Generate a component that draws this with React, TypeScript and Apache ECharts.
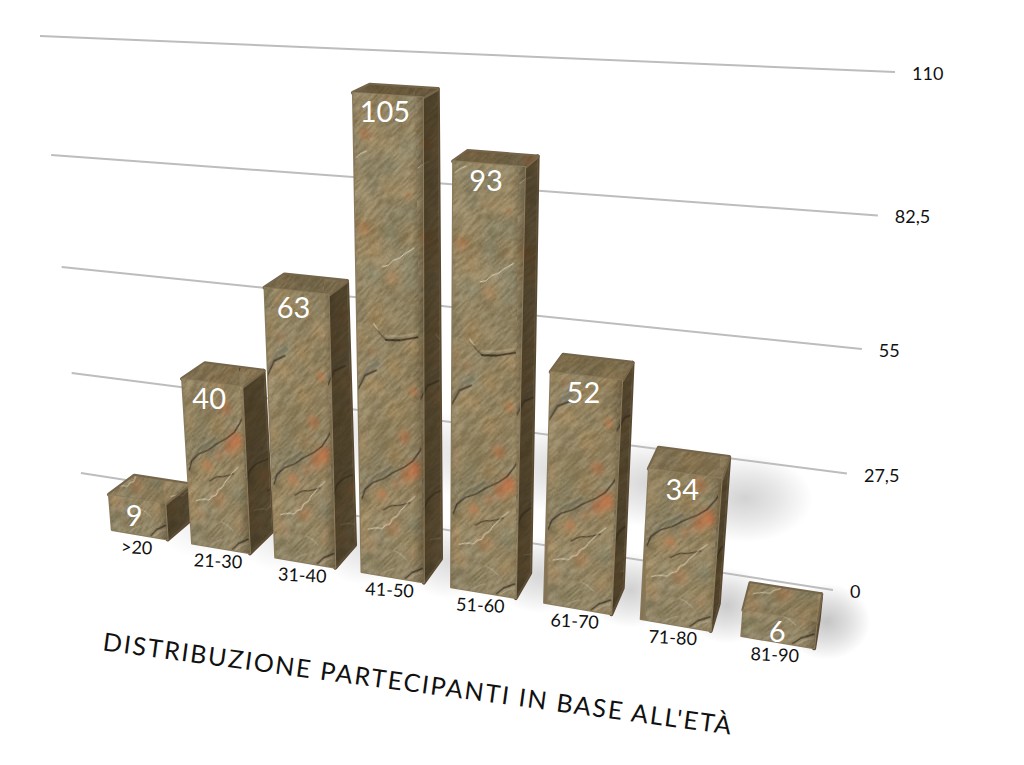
import React, { useEffect, useRef } from "react";
import * as echarts from "echarts";

const categories = [">20", "21-30", "31-40", "41-50", "51-60", "61-70", "71-80", "81-90"];
const values = [9, 40, 63, 105, 93, 52, 34, 6];
const ticks = [0, 27.5, 55, 82.5, 110];
const tickLabels = ["0", "27,5", "55", "82,5", "110"];
const chartTitle = "DISTRIBUZIONE PARTECIPANTI IN BASE ALL'ETÀ";
const axisMax = 110;

type P = [number, number];
type Quad = [P, P, P, P]; // (0,0) (1,0) (1,1) (0,1)

function homography(q: Quad) {
  const [[x0, y0], [x1, y1], [x2, y2], [x3, y3]] = q;
  const dx1 = x1 - x2, dx2 = x3 - x2, dx3 = x0 - x1 + x2 - x3;
  const dy1 = y1 - y2, dy2 = y3 - y2, dy3 = y0 - y1 + y2 - y3;
  const den = dx1 * dy2 - dx2 * dy1;
  const g = (dx3 * dy2 - dx2 * dy3) / den;
  const h = (dx1 * dy3 - dx3 * dy1) / den;
  const a = x1 - x0 + g * x1, b = x3 - x0 + h * x3, c = x0;
  const d = y1 - y0 + g * y1, e = y3 - y0 + h * y3, f = y0;
  return (u: number, v: number): P => {
    const w = g * u + h * v + 1;
    return [(a * u + b * v + c) / w, (d * u + e * v + f) / w];
  };
}

const wall = homography([[81, 473], [833, 590], [895, 72], [40, 36]]);
const front = homography([[100, 528], [830, 651], [887, 100], [60, 49]]);
const back = homography([[126, 508], [834, 622], [889, 90], [83, 43]]);
const BAR = 0.35;

function barGeom(uc: number, band: number, vv: number) {
  const u0 = uc - band * BAR, u1 = uc + band * BAR;
  return {
    vv, uc, u0, u1,
    fbl: front(u0, 0), fbr: front(u1, 0), ftl: front(u0, vv), ftr: front(u1, vv),
    bbr: back(u1, 0), btl: back(u0, vv), btr: back(u1, vv),
  };
}

const TW = 70, TH = 560, TB = 14;
function hash(x: number, y: number) {
  let n = (x * 374761393 + y * 668265263) | 0;
  n = Math.imul(n ^ (n >>> 13), 1274126177);
  return ((n ^ (n >>> 16)) >>> 0) / 4294967295;
}
function vnoise(x: number, y: number) {
  const xi = Math.floor(x), yi = Math.floor(y);
  const fx = x - xi, fy = y - yi;
  const sx = fx * fx * (3 - 2 * fx), sy = fy * fy * (3 - 2 * fy);
  const a = hash(xi, yi), b = hash(xi + 1, yi), c = hash(xi, yi + 1), d = hash(xi + 1, yi + 1);
  return a + (b - a) * sx + (c - a) * sy + (a - b - c + d) * sx * sy;
}
function makeTile(withLedge: boolean): HTMLCanvasElement {
  const cv = document.createElement("canvas");
  cv.width = TW; cv.height = TH;
  const ctx = cv.getContext("2d")!;
  const img = ctx.createImageData(TW, TH);
  for (let y = 0; y < TH; y++) {
    for (let x = 0; x < TW; x++) {
      // grain running up and to the right
      const along = (x - y) * 0.7, across = (x + y) * 0.7;
      const grain = vnoise(along * 0.11, across * 0.6) - 0.5;
      const fine = vnoise(x * 0.8, y * 0.8) - 0.5;
      const blotch = vnoise(x * 0.04 + 7, y * 0.03 + 3) - 0.5;
      const warm = vnoise(x * 0.05 + 40, y * 0.045 + 90) - 0.5;
      const l = 34 * grain + 16 * fine + 12 * blotch;
      const i = (y * TW + x) * 4;
      img.data[i] = 148 + l + 18 * warm;
      img.data[i + 1] = 133 + l + 3 * warm;
      img.data[i + 2] = 99 + l - 8 * warm;
      img.data[i + 3] = 255;
    }
  }
  ctx.putImageData(img, 0, 0);
  const Y = (h: number) => TH - TB - h;
  const orange = (x: number, h: number, r: number, a: number) => {
    const yy = Y(h);
    const g = ctx.createRadialGradient(x, yy, 0, x, yy, r);
    g.addColorStop(0, `rgba(214,104,56,${a})`);
    g.addColorStop(0.5, `rgba(214,104,56,${a * 0.5})`);
    g.addColorStop(1, "rgba(214,104,56,0)");
    ctx.fillStyle = g;
    ctx.fillRect(x - r, yy - r, 2 * r, 2 * r);
  };
  [
    [62, 112, 13, 0.7], [52, 103, 11, 0.45], [40, 94, 9, 0.28], [51, 143, 11, 0.4], [25, 82, 8, 0.38],
    [62, 190, 7, 0.4], [17, 223, 9, 0.18], [36, 49, 12, 0.22], [12, 30, 10, 0.12], [58, 25, 8, 0.12],
    [10, 345, 9, 0.32], [40, 300, 9, 0.16], [60, 385, 7, 0.18], [12, 440, 9, 0.35],
  ].forEach((o) => orange(o[0], o[1], o[2], o[3]));
  const stroke = (pts: number[][], color: string, lw: number) => {
    ctx.beginPath();
    pts.forEach((p, i) => (i ? ctx.lineTo(p[0], Y(p[1])) : ctx.moveTo(p[0], Y(p[1]))));
    ctx.strokeStyle = color; ctx.lineWidth = lw; ctx.lineJoin = "round"; ctx.lineCap = "round"; ctx.stroke();
  };
  const dark = "rgba(52,42,34,0.8)";
  const white = "rgba(235,232,214,0.8)";
  const ghost = "rgba(235,232,214,0.42)";
  stroke([[4, 80], [15, 96], [36, 110]], "rgba(95,95,88,0.45)", 3);
  stroke([[2, 74], [6, 84], [15, 92], [26, 97], [36, 104], [51, 113], [60, 120], [68, 131], [70, 135]], dark, 1.3);
  stroke([[26, 66], [32, 70], [36, 72], [43, 73], [49, 75], [56, 78]], dark, 1.1);
  stroke([[49, 1], [57, 8], [69, 14]], dark, 1.4);
  stroke([[53, 1], [60, 6], [69, 10]], "rgba(225,200,170,0.5)", 0.9);
  stroke([[8, 44], [14, 46], [18, 47], [24, 47], [28, 51], [33, 53], [36, 59], [41, 62], [45, 68], [49, 72], [54, 78], [62, 85]], white, 0.9);
  stroke([[21, 0], [26, 4], [30, 6], [36, 9]], ghost, 0.9);
  stroke([[38, 27], [45, 24], [51, 20]], ghost, 0.9);
  stroke([[2, 190], [12, 206], [24, 212]], "rgba(110,110,100,0.55)", 3.5);
  stroke([[0, 183], [8, 198], [21, 205]], "rgba(60,55,46,0.85)", 1.5);
  stroke([[2, 415], [8, 420], [14, 423]], white, 1);
  stroke([[30, 310], [36, 312], [42, 318], [50, 322], [54, 326], [66, 334]], white, 1);
  if (withLedge) {
    stroke([[32, 237], [48, 239], [68, 245]], "rgba(45,36,28,0.85)", 1.8);
    stroke([[21, 247], [26, 242], [32, 237]], "rgba(60,50,36,0.55)", 1.2);
    stroke([[19, 251], [23, 246]], "rgba(235,225,195,0.6)", 1.4);
    stroke([[32, 241], [48, 243], [68, 249]], "rgba(215,205,175,0.3)", 2);
  }
  return cv;
}

// The stone is laid out once, at the place each bar takes on the page.
function makePageTexture(): string {
  const tile = makeTile(true);
  const plainTile = makeTile(false);
  const cv = document.createElement("canvas");
  cv.width = 1024; cv.height = 765;
  const ctx = cv.getContext("2d")!;
  ctx.fillStyle = "#8b7b5c";
  ctx.fillRect(0, 0, 1024, 765);
  const band = 1 / values.length;
  values.forEach((val, i) => {
    const g = barGeom((i + 0.5) * band, band, val / axisMax);
    const up = front(g.u0, 1);
    const dx = up[0] - g.fbl[0], dy = up[1] - g.fbl[1];
    const L = Math.hypot(dx, dy);
    const a = (g.fbr[0] - g.fbl[0]) / TW, b = (g.fbr[1] - g.fbl[1]) / TW;
    const c = -dx / L, d = -dy / L;
    const e = g.fbl[0] - c * (TH - TB), f = g.fbl[1] - d * (TH - TB);
    ctx.save();
    ctx.beginPath();
    const pts: P[] = [g.fbl, g.fbr, g.bbr, g.btr, g.btl, g.ftl];
    pts.forEach((p, k) => (k ? ctx.lineTo(p[0] + (k === 1 || k === 2 || k === 3 ? 3 : -3), p[1]) : ctx.moveTo(p[0] - 3, p[1] + 4)));
    ctx.lineTo(g.ftl[0] - 3, g.fbl[1] + 4);
    ctx.closePath();
    ctx.clip();
    ctx.setTransform(a, b, c, d, e, f);
    const t = val > 80 ? tile : plainTile;
    [0, TW].forEach((ox) => {
      [0, TH].forEach((oy) => ctx.drawImage(t, ox, oy));
      ctx.drawImage(t, ox, -TH);
    });
    ctx.restore();
  });
  return cv.toDataURL("image/jpeg", 0.88);
}

export default function App() {
  const ref = useRef<HTMLDivElement>(null);
  useEffect(() => {
    document.body.style.margin = "0";
    document.body.style.background = "#fff";
    const chart = echarts.init(ref.current!, undefined, { renderer: "svg", width: 1024, height: 765 });
    const tex = makePageTexture();
    const FF = "Lato, 'Noto Sans', sans-serif";

    const geom = (params: any, api: any) => {
      const cs = params.coordSys;
      const p = api.coord([api.value(0), api.value(1)]);
      const band = api.size([1, 0])[0] / cs.width;
      const uc = (p[0] - cs.x) / cs.width;
      const vv = (cs.y + cs.height - p[1]) / cs.height;
      return barGeom(uc, band, vv);
    };
    const poly = (points: P[], style: any) => ({ type: "polygon", shape: { points }, style, silent: true });
    const blob = (cx: number, cy: number, rx: number, ry: number, a: number) => ({
      type: "ellipse",
      shape: { cx, cy, rx, ry },
      style: {
        fill: {
          type: "radial", x: 0.5, y: 0.5, r: 0.5,
          colorStops: [
            { offset: 0, color: `rgba(0,0,0,${a})` },
            { offset: 0.5, color: `rgba(0,0,0,${a * 0.55})` },
            { offset: 1, color: "rgba(0,0,0,0)" },
          ],
        },
      },
      silent: true,
    });
    const pattern = () => ({ image: tex, repeat: "repeat", imageWidth: 1024, imageHeight: 765 });

    chart.setOption({
      animation: false,
      backgroundColor: "#ffffff",
      grid: { left: 0, right: 0, top: 0, bottom: 0 },
      xAxis: { type: "category", data: categories, show: false },
      yAxis: { type: "value", min: 0, max: axisMax, interval: 27.5, show: false },
      graphic: [
        {
          type: "text", x: 105, y: 628, rotation: -0.133,
          style: { text: chartTitle, font: `400 25px ${FF}`, fill: "#111" },
        },
      ],
      series: [
        {
          type: "custom", coordinateSystem: "cartesian2d", silent: true, z: 1,
          data: values.map((v, i) => [i, v]),
          renderItem: (params: any, api: any) => {
            const g = geom(params, api);
            const h = g.bbr[1] - g.btr[1];
            const a = 0.06 + 0.18 * g.uc;
            const children: any[] = [blob(g.bbr[0] + 8, g.bbr[1] + 2, 44, 38, a)];
            if (h > 100) children.push(blob(g.bbr[0] + 26, g.bbr[1] - 105, 68, 44, a * 0.85));
            return { type: "group", children };
          },
        },
        {
          type: "custom", coordinateSystem: "cartesian2d", silent: true, z: 2,
          data: ticks.map((t, i) => [i, t]),
          renderItem: (params: any, api: any) => {
            const cs = params.coordSys;
            const t = api.value(1);
            const v = (cs.y + cs.height - api.coord([0, t])[1]) / cs.height;
            const a = wall(0, v), b = wall(1, v);
            return {
              type: "group",
              children: [
                { type: "line", shape: { x1: a[0], y1: a[1], x2: b[0], y2: b[1] }, style: { stroke: "#bdbdbd", lineWidth: 2 } },
                {
                  type: "text", x: b[0] + 17, y: b[1] + 1,
                  style: { text: tickLabels[params.dataIndex], font: `400 18px ${FF}`, fill: "#111", verticalAlign: "middle", align: "left" },
                },
              ],
            };
          },
        },
        {
          type: "custom", coordinateSystem: "cartesian2d", silent: true, z: 3,
          data: values.map((v, i) => [i, v]),
          renderItem: (params: any, api: any) => {
            const g = geom(params, api);
            const top: P[] = [g.ftl, g.ftr, g.btr, g.btl];
            const side: P[] = [g.ftr, g.btr, g.bbr, g.fbr];
            const face: P[] = [g.ftl, g.ftr, g.fbr, g.fbl];
            const topAlpha = 0.05 + 0.45 * g.vv;
            const cx = (g.ftl[0] + g.ftr[0]) / 2;
            return {
              type: "group",
              children: [
                poly(side, { fill: "#5a4a33", stroke: "#5a4a33", lineWidth: 4, lineJoin: "round" }),
                poly(side, { fill: pattern() }),
                poly(side, {
                  fill: {
                    type: "linear", x: 0, y: 0, x2: 1, y2: 0,
                    colorStops: [
                      { offset: 0, color: "rgba(48,36,18,0.74)" },
                      { offset: 1, color: "rgba(48,36,18,0.64)" },
                    ],
                  },
                }),
                poly(top, { fill: "#75654a", stroke: "#75654a", lineWidth: 4, lineJoin: "round" }),
                poly(top, { fill: pattern() }),
                poly(top, { fill: `rgba(60,44,20,${topAlpha})` }),
                poly(face, { fill: "#8b7b5c", stroke: "#8b7b5c", lineWidth: 2, lineJoin: "round" }),
                poly(face, { fill: pattern() }),
                poly(face, {
                  fill: {
                    type: "linear", x: 0, y: 0, x2: 1, y2: 0,
                    colorStops: [
                      { offset: 0, color: "rgba(40,30,15,0.10)" },
                      { offset: 0.08, color: "rgba(40,30,15,0)" },
                      { offset: 0.84, color: "rgba(40,30,15,0)" },
                      { offset: 1, color: "rgba(40,30,15,0.36)" },
                    ],
                  },
                }),
                {
                  type: "text", x: cx - 3, y: (g.ftl[1] + g.ftr[1]) / 2 + 15,
                  style: {
                    text: String(values[params.dataIndex]), font: `400 29px ${FF}`, fill: "#ffffff",
                    align: "center", verticalAlign: "middle",
                  },
                },
                {
                  type: "text", x: (g.fbl[0] + g.fbr[0]) / 2 - 3, y: (g.fbl[1] + g.fbr[1]) / 2 + 12,
                  rotation: -0.05,
                  style: {
                    text: categories[params.dataIndex], font: `400 18px ${FF}`, fill: "#111",
                    align: "center", verticalAlign: "middle",
                  },
                },
              ],
            };
          },
        },
      ],
    });
    return () => chart.dispose();
  }, []);
  return (
    <>
      <style>{`svg text[style*="25px"]{letter-spacing:1.85px}`}</style>
      <div ref={ref} style={{ position: "absolute", left: 0, top: 0, width: 1024, height: 765 }} />
    </>
  );
}
